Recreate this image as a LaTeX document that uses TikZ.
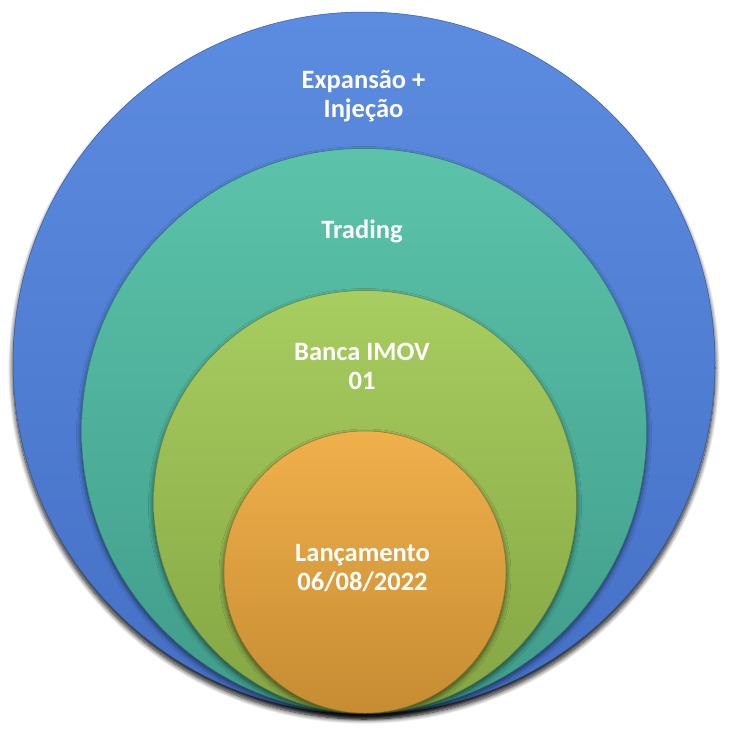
\documentclass[tikz,border=0pt]{standalone}
\usepackage{fontspec}
\setmainfont{Carlito}
\usetikzlibrary{shadows.blur}
\definecolor{blueTop}{HTML}{5C8CE0}
\definecolor{blueBot}{HTML}{4470C6}
\definecolor{tealTop}{HTML}{5CC3AA}
\definecolor{tealBot}{HTML}{3F9C8A}
\definecolor{greenTop}{HTML}{A8CD60}
\definecolor{greenBot}{HTML}{84A543}
\definecolor{orangeTop}{HTML}{F0B04C}
\definecolor{orangeBot}{HTML}{C68C32}
\begin{document}
\begin{tikzpicture}[x=1pt,y=-1pt,
  ring/.style n args={5}{circle, inner sep=0pt, minimum size=#1,
    top color=#2, bottom color=#3, draw=#3!80!black, line width=0.5pt,
    blur shadow={shadow xshift=0pt, shadow yshift=-#5,
      shadow blur steps=12, shadow blur radius=5pt, shadow opacity=#4}},
  lbl/.style={text=white, font=\bfseries\fontsize{26.5}{29}\selectfont,
    anchor=base, inner sep=0pt}]
\useasboundingbox (0,0) rectangle (729,729);
% nested rings, all resting on the same bottom point
\node[ring={702pt}{blueTop}{blueBot}{95}{5pt}]     (outer)  at (364,363) {};
\node[ring={565pt}{tealTop}{tealBot}{60}{3pt}]     (second) at (364,431) {};
\node[ring={423pt}{greenTop}{greenBot}{60}{3pt}]   (third)  at (365,502) {};
\node[ring={282pt}{orangeTop}{orangeBot}{60}{3pt}] (core)   at (365,572) {};
% labels, one node per printed line, placed on their baselines
\node[lbl] (t1a) at (363.5,88)  {Expansão +};
\node[lbl] (t1b) at (363.5,117) {Injeção};
\node[lbl] (t2)  at (362,238)   {Trading};
\node[lbl] (t3a) at (362,360)   {Banca IMOV};
\node[lbl] (t3b) at (362,389)   {01};
\node[lbl] (t4a) at (362.5,561) {Lançamento};
\node[lbl] (t4b) at (362.5,590) {06/08/2022};
\end{tikzpicture}
\end{document}
